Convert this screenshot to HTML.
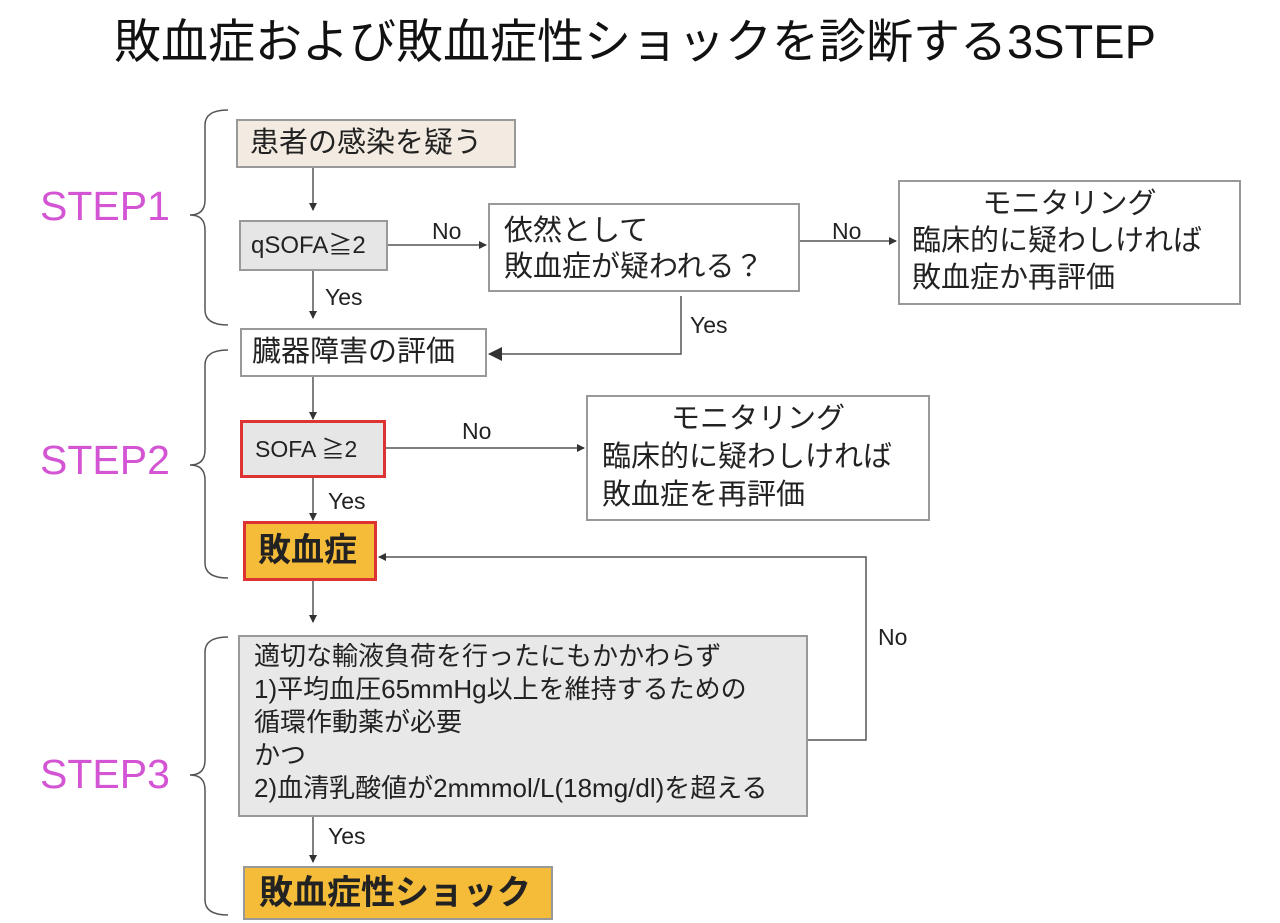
<!DOCTYPE html>
<html><head><meta charset="utf-8"><style>
body{margin:0;width:1280px;height:923px;background:#fff;overflow:hidden;font-family:"Liberation Sans","Noto Sans CJK JP",sans-serif;color:#222}
.a{position:absolute}
.b{position:absolute;box-sizing:border-box;border:2px solid #999;font-size:29px;line-height:34px;white-space:nowrap}
.s{position:absolute;color:#d455d4;font-size:41px}
.l{position:absolute;font-size:23px;color:#222}
</style></head><body>
<div class="a" style="left:0;width:1270px;top:12px;text-align:center;font-size:47px;line-height:60px;color:#111">敗血症および敗血症性ショックを診断する3STEP</div>
<div class="s" style="left:40px;top:183px">STEP1</div>
<div class="s" style="left:40px;top:437px">STEP2</div>
<div class="s" style="left:40px;top:751px">STEP3</div>

<div class="b" style="left:236px;top:119px;width:280px;height:49px;background:#f3ebe2;padding:5px 12px">患者の感染を疑う</div>
<div class="b" style="left:239px;top:220px;width:149px;height:51px;background:#e6e6e6;font-size:24px;padding:7px 10px">qSOFA≧2</div>
<div class="b" style="left:488px;top:203px;width:312px;height:89px;background:#fff;padding:8px 14px;line-height:36px">依然として<br>敗血症が疑われる？</div>
<div class="b" style="left:898px;top:180px;width:343px;height:125px;background:#fff;padding:4px 12px;text-align:left;line-height:37px"><div style="text-align:center">モニタリング</div>臨床的に疑わしければ<br>敗血症か再評価</div>
<div class="b" style="left:240px;top:328px;width:247px;height:49px;background:#fff;padding:5px 10px">臓器障害の評価</div>
<div class="b" style="left:240px;top:420px;width:146px;height:58px;background:#e6e6e6;border:3px solid #d33;font-size:23px;padding:9px 12px">SOFA ≧2</div>
<div class="b" style="left:586px;top:395px;width:344px;height:126px;background:#fff;padding:3px 14px;line-height:38px"><div style="text-align:center">モニタリング</div>臨床的に疑わしければ<br>敗血症を再評価</div>
<div class="b" style="left:243px;top:521px;width:134px;height:60px;background:#f5bc3a;border:3px solid #d33;font-weight:bold;font-size:33px;padding:9px 12px">敗血症</div>
<div class="b" style="left:238px;top:635px;width:570px;height:182px;background:#e8e8e8;padding:3px 14px;font-size:26px;line-height:33px">適切な輸液負荷を行ったにもかかわらず<br>1)平均血圧65mmHg以上を維持するための<br>循環作動薬が必要<br>かつ<br>2)血清乳酸値が2mmmol/L(18mg/dl)を超える</div>
<div class="b" style="left:243px;top:866px;width:310px;height:54px;background:#f5bc3a;font-weight:bold;font-size:34px;padding:6px 14px;line-height:38px">敗血症性ショック</div>

<div class="l" style="left:432px;top:218px">No</div>
<div class="l" style="left:832px;top:218px">No</div>
<div class="l" style="left:325px;top:284px">Yes</div>
<div class="l" style="left:690px;top:312px">Yes</div>
<div class="l" style="left:462px;top:418px">No</div>
<div class="l" style="left:328px;top:488px">Yes</div>
<div class="l" style="left:878px;top:624px">No</div>
<div class="l" style="left:328px;top:823px">Yes</div>

<svg class="a" style="left:0;top:0" width="1280" height="923">
<defs><marker id="m" markerWidth="8" markerHeight="8" refX="7" refY="4" orient="auto" markerUnits="userSpaceOnUse"><path d="M0,0 L8,4 L0,8z" fill="#333"/></marker>
<marker id="M" markerWidth="14" markerHeight="14" refX="13" refY="7" orient="auto" markerUnits="userSpaceOnUse"><path d="M0,0 L14,7 L0,14z" fill="#333"/></marker></defs>
<g stroke="#555" stroke-width="1.5" fill="none">
<line x1="313" y1="168" x2="313" y2="210" marker-end="url(#m)"/>
<line x1="388" y1="245" x2="486" y2="245" marker-end="url(#m)"/>
<line x1="800" y1="241" x2="896" y2="241" marker-end="url(#m)"/>
<line x1="313" y1="271" x2="313" y2="318" marker-end="url(#m)"/>
<polyline points="681,296 681,354 489,354" marker-end="url(#M)"/>
<line x1="313" y1="377" x2="313" y2="419" marker-end="url(#m)"/>
<line x1="386" y1="448" x2="584" y2="448" marker-end="url(#m)"/>
<line x1="313" y1="478" x2="313" y2="520" marker-end="url(#m)"/>
<line x1="313" y1="581" x2="313" y2="622" marker-end="url(#m)"/>
<polyline points="808,740 866,740 866,557 379,557" marker-end="url(#m)"/>
<line x1="313" y1="817" x2="313" y2="862" marker-end="url(#m)"/>
<path d="M228,110 Q205,110 205,125 L205,200 Q205,215 190,215 Q205,215 205,230 L205,310 Q205,325 228,325"/>
<path d="M228,350 Q205,350 205,365 L205,450 Q205,465 190,465 Q205,465 205,480 L205,563 Q205,578 228,578"/>
<path d="M228,637 Q205,637 205,652 L205,760 Q205,775 190,775 Q205,775 205,790 L205,900 Q205,915 228,915"/>
</g></svg>
</body></html>
